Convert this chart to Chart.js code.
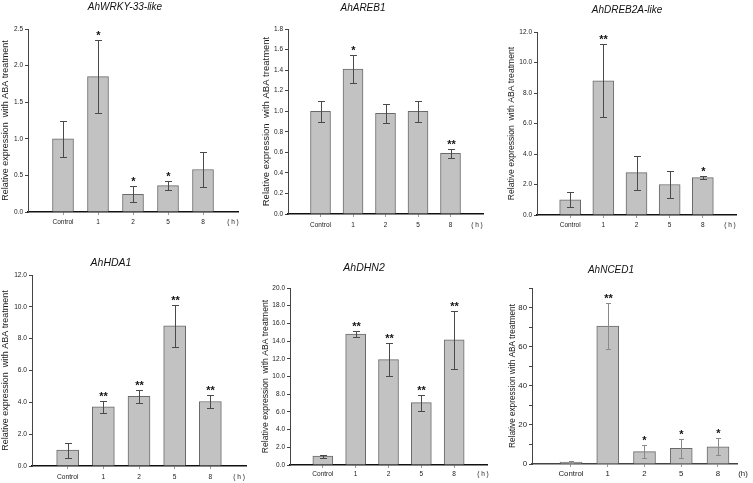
<!DOCTYPE html>
<html>
<head>
<meta charset="utf-8">
<script src="https://cdn.jsdelivr.net/npm/chart.js@4.4.0/dist/chart.umd.min.js"></script>
<style>
    html, body { margin: 0; padding: 0; background: #fff; }
    #wrap { position: relative; width: 753px; height: 483px; overflow: hidden; background: #fff; }
    #wrap canvas { position: absolute; }
</style>
</head>
<body>
<div id="wrap"></div>
<script>
// ====== Data ======
const TIME_LABELS = ['Control', '1', '2', '5', '8'];

const WRKY_MEAN = [1.0, 1.85, 0.24, 0.36, 0.58];
const WRKY_ERR = [0.25, 0.5, 0.11, 0.06, 0.24];
const WRKY_SIG = ['', '*', '*', '*', ''];
const WRKY_TICKS = [0, 0.5, 1.0, 1.5, 2.0, 2.5];

const AREB_MEAN = [1.0, 1.41, 0.98, 1.0, 0.59];
const AREB_ERR = [0.1, 0.14, 0.09, 0.1, 0.045];
const AREB_SIG = ['', '*', '', '', '**'];
const AREB_TICKS = [0, 0.2, 0.4, 0.6, 0.8, 1.0, 1.2, 1.4, 1.6, 1.8];

const DREB_MEAN = [1.0, 8.8, 2.78, 2.0, 2.45];
const DREB_ERR = [0.5, 2.4, 1.12, 0.87, 0.08];
const DREB_SIG = ['', '**', '', '', '*'];
const DREB_TICKS = [0, 2, 4, 6, 8, 10, 12];

const HDA_MEAN = [1.0, 3.72, 4.38, 8.8, 4.05];
const HDA_ERR = [0.47, 0.38, 0.41, 1.3, 0.41];
const HDA_SIG = ['', '**', '**', '**', '**'];
const HDA_TICKS = [0, 2, 4, 6, 8, 10, 12];

const DHN_MEAN = [1.0, 14.8, 11.9, 7.05, 14.15];
const DHN_ERR = [0.18, 0.3, 1.85, 0.9, 3.3];
const DHN_SIG = ['', '**', '**', '**', '**'];
const DHN_TICKS = [0, 2, 4, 6, 8, 10, 12, 14, 16, 18, 20];

const NCED_MEAN = [1.0, 70.5, 6.3, 8.0, 8.8];
const NCED_ERR = [0.5, 11.8, 3.4, 4.7, 4.3];
const NCED_SIG = ['', '**', '*', '*', '*'];
const NCED_TICKS = [0, 10, 20, 30, 40, 50, 60, 70, 80, 90];
const NCED_TICK_LABELS = ['0', '', '20', '', '40', '', '60', '', '80', ''];

const Y_TITLE = 'Relative expression  with ABA treatment';
const Y_TITLE_ORIGIN = 'Relative expression with ABA treatment';

// ====== Panel layout (canvas box + plot area, in canvas pixels) ======
const FONT = '"Liberation Sans", Arial, sans-serif';
const PANELS = [
    {title: 'AhWRKY-33-like', mean: WRKY_MEAN, err: WRKY_ERR, sig: WRKY_SIG, ticks: WRKY_TICKS, yTitle: Y_TITLE,
        box: [0, 0, 251, 240], plot: [28, 29, 238, 212], titleAt: [125, 7, 10], yTitleAt: [6, 9],
        tick: 6.5, labelDy: 10, barW: 21, hX: 233, xRange: [0, 6]},
    {title: 'AhAREB1', mean: AREB_MEAN, err: AREB_ERR, sig: AREB_SIG, ticks: AREB_TICKS, yTitle: Y_TITLE,
        box: [251, 0, 251, 240], plot: [37, 29, 232, 214], titleAt: [112, 8, 10], yTitleAt: [15, 9.5],
        tick: 6.5, labelDy: 11.5, barW: 20, hX: 226, xRange: [0, 6]},
    {title: 'AhDREB2A-like', mean: DREB_MEAN, err: DREB_ERR, sig: DREB_SIG, ticks: DREB_TICKS, yTitle: Y_TITLE,
        box: [502, 0, 251, 240], plot: [35, 32, 234, 215], titleAt: [125, 10, 10], yTitleAt: [10, 8.6],
        tick: 6.5, labelDy: 10, barW: 21, hX: 228, xRange: [0, 6]},
    {title: 'AhHDA1', mean: HDA_MEAN, err: HDA_ERR, sig: HDA_SIG, ticks: HDA_TICKS, yTitle: Y_TITLE,
        box: [0, 240, 251, 243], plot: [32, 35, 246, 226], titleAt: [111, 23, 10.5], yTitleAt: [6, 9],
        tick: 6.6, labelDy: 10.7, barW: 22, hX: 239, xRange: [0, 6]},
    {title: 'AhDHN2', mean: DHN_MEAN, err: DHN_ERR, sig: DHN_SIG, ticks: DHN_TICKS, yTitle: Y_TITLE,
        box: [251, 240, 251, 243], plot: [39, 48, 236, 225], titleAt: [113, 28, 10.5], yTitleAt: [15, 8.6],
        tick: 6.5, labelDy: 9, barW: 20, hX: 232, xRange: [0, 6]},
    {title: 'AhNCED1', mean: NCED_MEAN, err: NCED_ERR, sig: NCED_SIG, ticks: NCED_TICKS, tickLabels: NCED_TICK_LABELS,
        yTitle: Y_TITLE_ORIGIN, unit: '(h)', errColor: '#8a8a8a', cap: 2.5, axisColor: '#444',
        box: [502, 240, 251, 243], plot: [30, 48, 235, 224], titleAt: [109, 30, 10], yTitleAt: [11, 8.2],
        tick: 7.8, labelDy: 10.3, barW: 22, hX: 241, xRange: [-0.061, 5.517]}
];

// ---- Error bars, significance stars, panel title, time unit ----
function makeDecor(p) {
    return {
        id: 'decor',
        afterDatasetsDraw(chart) {
            const ctx = chart.ctx;
            const meta = chart.getDatasetMeta(0);
            const y = chart.scales.y;
            const cap = p.cap || 3.5;
            ctx.save();
            ctx.strokeStyle = p.errColor || '#4a4a4a';
            ctx.lineWidth = 1;
            ctx.fillStyle = '#111';
            ctx.font = 'bold 11px ' + FONT;
            ctx.textAlign = 'center';
            ctx.textBaseline = 'alphabetic';
            p.mean.forEach((m, i) => {
                const bar = meta.data[i];
                const x = Math.round(bar.x) + 0.5;
                const top = Math.round(y.getPixelForValue(m + p.err[i])) + 0.5;
                const bot = Math.round(y.getPixelForValue(Math.max(m - p.err[i], 0))) + 0.5;
                ctx.beginPath();
                ctx.moveTo(x, top);
                ctx.lineTo(x, bot);
                ctx.moveTo(x - cap, top);
                ctx.lineTo(x + cap, top);
                ctx.moveTo(x - cap, bot);
                ctx.lineTo(x + cap, bot);
                ctx.stroke();
                if (p.sig[i])
                    ctx.fillText(p.sig[i], x, top - 2);
            });
            ctx.restore();
        },
        afterDraw(chart) {
            const ctx = chart.ctx;
            ctx.save();
            ctx.fillStyle = '#111';
            ctx.textAlign = 'center';
            ctx.textBaseline = 'middle';
            ctx.font = 'italic ' + p.titleAt[2] + 'px ' + FONT;
            ctx.fillText(p.title, p.titleAt[0], p.titleAt[1]);
            ctx.fillStyle = '#1a1a1a';
            ctx.font = p.tick + 'px ' + FONT;
            ctx.fillText(p.unit || '( h )', p.hX, chart.chartArea.bottom + p.labelDy);
            ctx.restore();
        }
    };
}

// ---- Build one panel ----
function drawPanel(p) {
    const [left, top, w, h] = p.box;
    const [pl, pt, pr, pb] = p.plot;
    const canvas = document.createElement('canvas');
    canvas.width = w;
    canvas.height = h;
    canvas.style.left = left + 'px';
    canvas.style.top = top + 'px';
    canvas.style.width = w + 'px';
    canvas.style.height = h + 'px';
    document.getElementById('wrap').appendChild(canvas);

    const axisColor = p.axisColor || '#111';
    const yLine = 1.2 * p.yTitleAt[1];
    const tickLine = 1.2 * p.tick;

    new Chart(canvas, {
        type: 'bar',
        data: {
            datasets: [{
                data: p.mean.map((v, i) => ({x: i + 1, y: v})),
                backgroundColor: '#c2c2c2',
                borderColor: '#6a6a6a',
                borderWidth: 1,
                barThickness: p.barW
            }]
        },
        options: {
            responsive: false,
            animation: false,
            devicePixelRatio: 1,
            layout: {padding: {left: 0, top: pt, right: w - pr, bottom: 0}},
            plugins: {legend: {display: false}, tooltip: {enabled: false}, title: {display: false}},
            scales: {
                x: {
                    type: 'linear',
                    min: p.xRange[0],
                    max: p.xRange[1],
                    bounds: 'data',
                    offset: false,
                    afterBuildTicks: s => { s.ticks = TIME_LABELS.map((_, i) => ({value: i + 1})); },
                    afterFit: s => { s.height = h - pb; },
                    ticks: {
                        autoSkip: false,
                        maxRotation: 0,
                        color: '#1a1a1a',
                        font: {family: FONT, size: p.tick},
                        padding: p.labelDy - 3 - tickLine / 2,
                        callback: (v, i) => TIME_LABELS[i]
                    },
                    grid: {display: true, drawOnChartArea: false, offset: false, tickLength: 3, tickColor: '#9a9a9a'},
                    border: {display: true, color: axisColor, width: 1.5}
                },
                y: {
                    min: p.ticks[0],
                    max: p.ticks[p.ticks.length - 1],
                    afterBuildTicks: s => { s.ticks = p.ticks.map(v => ({value: v})); },
                    afterFit: s => { s.width = pl; },
                    ticks: {
                        color: '#1a1a1a',
                        font: {family: FONT, size: p.tick},
                        padding: 2,
                        callback: (v, i) => p.tickLabels ? p.tickLabels[i] : v.toFixed(1)
                    },
                    grid: {display: true, drawOnChartArea: false, tickLength: 3, tickColor: '#444'},
                    border: {display: true, color: '#444', width: 1},
                    title: {
                        display: true,
                        text: p.yTitle,
                        color: '#1a1a1a',
                        font: {family: FONT, size: p.yTitleAt[1]},
                        padding: {top: Math.max(p.yTitleAt[0] - yLine / 2, 0), bottom: 0}
                    }
                }
            }
        },
        plugins: [makeDecor(p)]
    });
}

PANELS.forEach(drawPanel);
</script>
</body>
</html>
